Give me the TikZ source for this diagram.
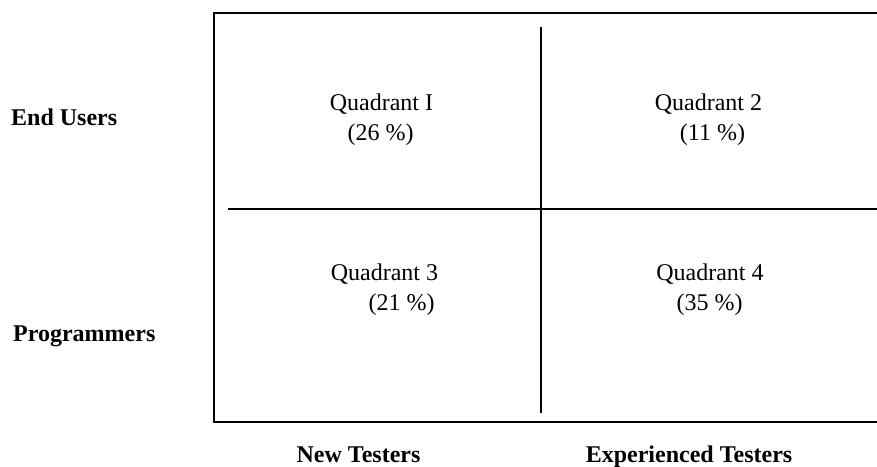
\documentclass[tikz,border=0pt]{standalone}
\usepackage{fontspec}
\setmainfont{Liberation Serif}
\begin{document}
\begin{tikzpicture}[x=1pt,y=-1pt,
  lbl/.style={inner sep=0pt,font=\fontsize{24}{28}\selectfont,anchor=base},
  axlbl/.style={inner sep=0pt,font=\fontsize{24}{28}\selectfont\bfseries},
  frame/.style={line width=2pt,black},
  divider/.style={line width=1.3pt,black}]
\useasboundingbox (0,0) rectangle (877,466);
% frame
\coordinate (tr) at (877,12.5);
\coordinate (tl) at (213.5,12.5);
\coordinate (bl) at (213.5,422);
\coordinate (br) at (877,422);
\draw[frame] (tr) -- (tl) -- (bl) -- (br);
% dividers
\coordinate (vt) at (541,27);
\coordinate (vb) at (541,413);
\coordinate (hl) at (228,209);
\coordinate (hr) at (877,209);
\draw[divider] (vt) -- (vb);
\draw[divider,line width=2pt] (hl) -- (hr);
% quadrant labels
\node[lbl] (q1a) at (381.5,110) {Quadrant I};
\node[lbl] (q1b) at (380.5,140) {(26 \%)};
\node[lbl] (q2a) at (708.5,110) {Quadrant 2};
\node[lbl] (q2b) at (712.5,140) {(11 \%)};
\node[lbl] (q3a) at (384.5,280) {Quadrant 3};
\node[lbl] (q3b) at (401.5,310) {(21 \%)};
\node[lbl] (q4a) at (710,280) {Quadrant 4};
\node[lbl] (q4b) at (709.5,310) {(35 \%)};
% axis labels
\node[axlbl,anchor=base west] (eu) at (11,125) {End Users};
\node[axlbl,anchor=base west] (pr) at (13,341) {Programmers};
\node[axlbl,anchor=base] (nt) at (358.5,462) {New Testers};
\node[axlbl,anchor=base] (et) at (689,462) {Experienced Testers};
\end{tikzpicture}
\end{document}
